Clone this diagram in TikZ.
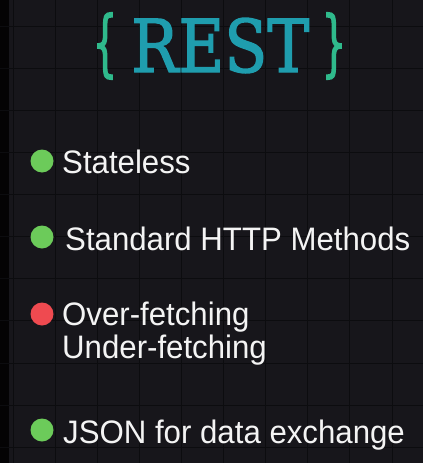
\documentclass[tikz,border=0pt]{standalone}
\usepackage{fontspec}
\usepackage{graphicx}
\setmainfont[FakeStretch=0.96]{Liberation Sans}
\newfontfamily\titlefont[FakeBold=2]{DejaVu Serif}
\newfontfamily\bracefont[FakeBold=3]{DejaVu Serif}
\definecolor{bgcol}{HTML}{17161B}
\definecolor{gridcol}{HTML}{0C0C0F}
\definecolor{restcol}{HTML}{1F9DAE}
\definecolor{bracecol}{HTML}{2FBA8C}
\definecolor{goodcol}{HTML}{6CCB5A}
\definecolor{badcol}{HTML}{EF4A50}
\definecolor{txtcol}{HTML}{F4F4F4}
\tikzset{
  bulletdot/.style={circle, minimum size=23pt, inner sep=0pt},
  itemtext/.style={anchor=base west, inner sep=0pt, text=txtcol, font=\fontsize{32.5}{38}\selectfont},
}
\begin{document}
\begin{tikzpicture}[x=1pt,y=-1pt]
\fill[bgcol] (0,0) rectangle (423,463);
\fill[black!85!bgcol] (0,0) rectangle (9,463);
\useasboundingbox (0,0) rectangle (423,463);
\foreach \gx in {13,55,97,139,181,223,265,307,349,392}
  \draw[gridcol, line width=1pt] (\gx,0) -- (\gx,463);
\foreach \gy in {26,68,110,152,194,236,278,320,363,405,447}
  \draw[gridcol, line width=1pt] (0,\gy) -- (423,\gy);
% title
\node[anchor=base west, inner sep=0pt, text=restcol] (rest) at (131,72) {\resizebox{178pt}{54pt}{\titlefont REST}};
\node[anchor=center, inner sep=0pt, text=bracecol] (lb) at (105,46) {\resizebox*{24pt}{66pt}{\bracefont\{}};
\node[anchor=center, inner sep=0pt, text=bracecol] (rb) at (334,46) {\resizebox*{24pt}{66pt}{\bracefont\}}};
% items
\node[bulletdot, fill=goodcol] (b1) at (42,161) {};
\node[itemtext] (t1) at (62,173) {Stateless};
\node[bulletdot, fill=goodcol] (b2) at (42,237) {};
\node[itemtext] (t2) at (65,250) {Standard HTTP Methods};
\node[bulletdot, fill=badcol] (b3) at (42,314) {};
\node[itemtext] (t3) at (62,325) {Over-fetching};
\node[itemtext] (t3b) at (62,358) {Under-fetching};
\node[bulletdot, fill=goodcol] (b4) at (42,430) {};
\node[itemtext] (t4) at (63,443) {JSON for data exchange};
\end{tikzpicture}
\end{document}
